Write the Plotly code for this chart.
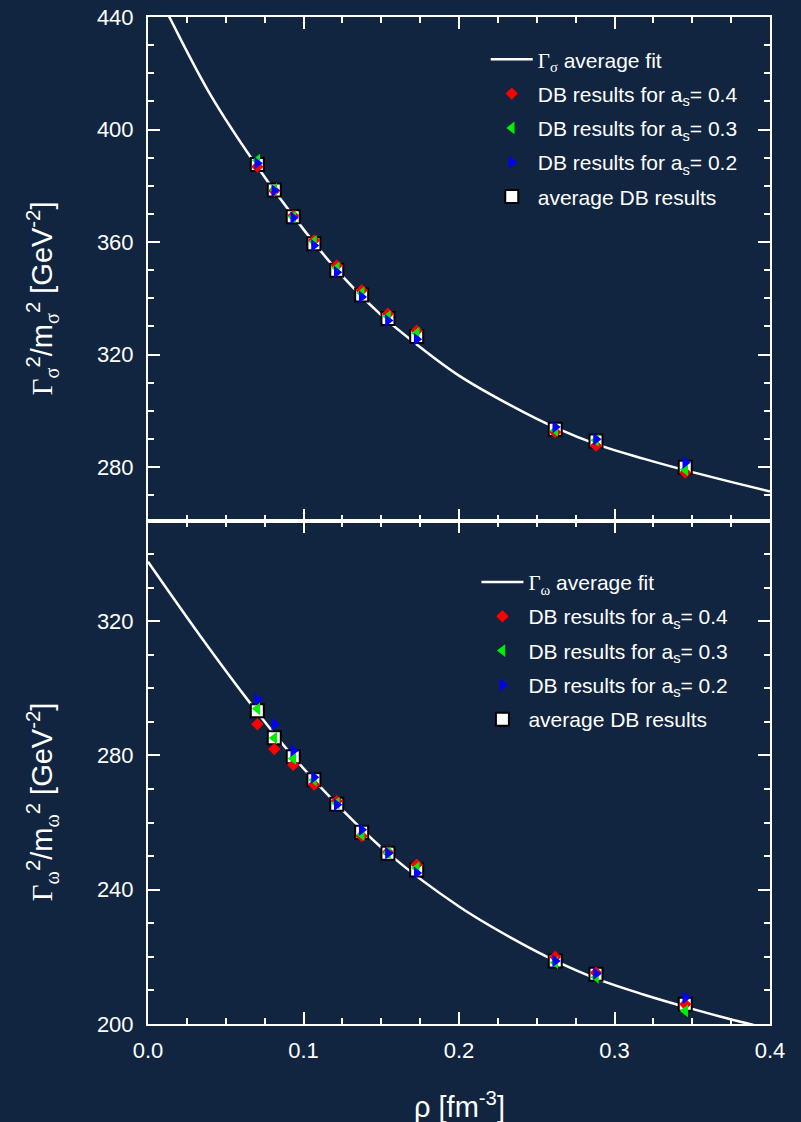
import plotly.graph_objects as go
from plotly.subplots import make_subplots

# densities rho [fm^-3] of the DB calculations
rho = [0.0703, 0.0812, 0.0934, 0.1067, 0.1214, 0.1374, 0.1543, 0.1728, 0.2619, 0.2881, 0.3455]

# sigma channel: Gamma_sigma^2 / m_sigma^2 [GeV^-2]
sig_as04 = [386.8, 378.2, 369.3, 360.6, 351.7, 342.9, 334.5, 328.5, 292.4, 287.6, 278.0]
sig_as03 = [389.1, 378.7, 369.0, 360.2, 350.8, 341.9, 333.5, 327.6, 293.0, 289.5, 279.0]
sig_as02 = [388.0, 378.3, 368.6, 358.8, 349.3, 340.5, 332.1, 325.4, 294.2, 289.9, 281.6]
sig_avg = [387.6, 378.5, 369.0, 359.4, 350.0, 341.2, 332.8, 326.4, 293.4, 289.3, 279.9]

# omega channel: Gamma_omega^2 / m_omega^2 [GeV^-2]
om_as04 = [289.3, 281.9, 277.2, 271.3, 266.4, 256.0, 251.2, 247.5, 220.0, 215.3, 205.9]
om_as03 = [293.9, 285.2, 279.1, 272.7, 265.8, 256.4, 251.0, 246.5, 218.3, 213.9, 203.9]
om_as02 = [296.7, 289.3, 281.4, 273.5, 265.3, 257.9, 250.9, 245.0, 218.8, 215.0, 207.8]
om_avg = [293.3, 285.3, 279.6, 272.8, 265.5, 257.1, 250.9, 245.9, 218.8, 214.8, 205.9]

# average fit curves
sig_fit_x = [0.0, 0.0137, 0.04, 0.07, 0.1, 0.1215, 0.15, 0.173, 0.2, 0.233, 0.262, 0.29, 0.3185, 0.35, 0.3722, 0.4]
sig_fit_y = [455.0, 440.0, 412.5, 387.0, 364.5, 350.0, 334.0, 323.5, 312.5, 302.0, 294.0, 287.8, 283.0, 278.2, 275.1, 271.3]
om_fit_x = [0.0, 0.035, 0.0667, 0.0934, 0.1214, 0.1543, 0.2, 0.233, 0.262, 0.29, 0.3185, 0.35, 0.3722, 0.4]
om_fit_y = [337.7, 314.7, 295.0, 279.6, 265.5, 250.9, 235.0, 225.8, 218.8, 213.2, 208.8, 204.5, 201.7, 198.5]

x_ticks = [0.0, 0.1, 0.2, 0.3, 0.4]

BG = "rgb(17,37,64)"
FG = "white"
SERIF = "Liberation Serif"
SANS = "Liberation Sans, Arial, sans-serif"


def serif(txt):
    return f"<span style='font-family:{SERIF}'>{txt}</span>"


def gamma(sym):
    return serif("Γ") + "<sub>" + serif(sym) + "</sub>"


def y_title(sym):
    return (serif("Γ") + "<sub>" + serif(sym) + "</sub><sup>2</sup>/m<sub>" + serif(sym)
            + "</sub><sup>2</sup> [GeV<sup>-2</sup>]")


fig = make_subplots(rows=2, cols=1, shared_xaxes=True, vertical_spacing=0)

panels = [
    (1, "legend", "σ", sig_fit_x, sig_fit_y, sig_avg, sig_as04, sig_as03, sig_as02),
    (2, "legend2", "ω", om_fit_x, om_fit_y, om_avg, om_as04, om_as03, om_as02),
]

for row, leg, sym, fx, fy, avg, a4, a3, a2 in panels:
    fig.add_trace(go.Scatter(
        x=fx, y=fy, mode="lines", line=dict(color=FG, width=2.5, shape="spline", smoothing=1.0),
        name=gamma(sym) + " average fit", legend=leg, legendgroup=f"{leg}a", legendrank=1,
    ), row=row, col=1)
    fig.add_trace(go.Scatter(
        x=rho, y=avg, mode="markers",
        marker=dict(symbol="square", size=13, color="white", line=dict(color="black", width=2)),
        name="average DB results", legend=leg, legendgroup=f"{leg}e", legendrank=5,
    ), row=row, col=1)
    fig.add_trace(go.Scatter(
        x=rho, y=a4, mode="markers",
        marker=dict(symbol="diamond", size=9.5, color="#ff0000"),
        name="DB results for a<sub>s</sub>= 0.4", legend=leg, legendgroup=f"{leg}b", legendrank=2,
    ), row=row, col=1)
    fig.add_trace(go.Scatter(
        x=rho, y=a3, mode="markers",
        marker=dict(symbol="triangle-left", size=11, color="#00ee00"),
        name="DB results for a<sub>s</sub>= 0.3", legend=leg, legendgroup=f"{leg}c", legendrank=3,
    ), row=row, col=1)
    fig.add_trace(go.Scatter(
        x=rho, y=a2, mode="markers",
        marker=dict(symbol="triangle-right", size=11, color="#0000ff"),
        name="DB results for a<sub>s</sub>= 0.2", legend=leg, legendgroup=f"{leg}d", legendrank=4,
    ), row=row, col=1)

axis_common = dict(
    showline=True, linecolor=FG, linewidth=2, mirror="ticks",
    ticks="inside", ticklen=12, tickwidth=2, tickcolor=FG,
    showgrid=False, zeroline=False, automargin=False,
    tickfont=dict(family=SANS, size=22, color=FG),
)

fig.update_xaxes(**axis_common, range=[0, 0.4], tickvals=x_ticks, tickformat=".1f",
                 minor=dict(ticks="inside", ticklen=6, tickwidth=2, tickcolor=FG, dtick=0.025, showgrid=False))
fig.update_xaxes(showticklabels=False, row=1, col=1)
fig.update_xaxes(ticklabelstandoff=6, row=2, col=1)

fig.update_yaxes(**axis_common, dtick=40, tick0=0, ticklabelstandoff=8,
                 minor=dict(ticks="inside", ticklen=6, tickwidth=2, tickcolor=FG, dtick=10, showgrid=False))
fig.update_yaxes(range=[261, 440], row=1, col=1)
fig.update_yaxes(range=[200, 350], row=2, col=1)

legend_common = dict(
    bgcolor="rgba(0,0,0,0)", borderwidth=0, font=dict(family=SANS, size=21, color=FG),
    itemwidth=42, tracegroupgap=4, xanchor="left", yanchor="top",
)

title_font = dict(family=SANS, size=29, color=FG)

fig.update_layout(
    width=801, height=1122,
    margin=dict(l=148, r=31, t=17, b=98, autoexpand=False),
    paper_bgcolor=BG, plot_bgcolor=BG,
    showlegend=True,
    legend=dict(**legend_common, x=0.543, y=0.978),
    legend2=dict(**legend_common, x=0.528, y=0.459),
    annotations=[
        dict(text=y_title("σ"), xref="paper", yref="paper", x=-0.17, y=0.721, textangle=-90,
             showarrow=False, xanchor="center", yanchor="middle", font=title_font),
        dict(text=y_title("ω"), xref="paper", yref="paper", x=-0.17, y=0.2205, textangle=-90,
             showarrow=False, xanchor="center", yanchor="middle", font=title_font),
        dict(text="ρ [fm<sup>-3</sup>]", xref="paper", yref="paper", x=0.5, y=-0.0805,
             showarrow=False, xanchor="center", yanchor="middle", font=title_font),
    ],
)

fig.write_html("out.html")
